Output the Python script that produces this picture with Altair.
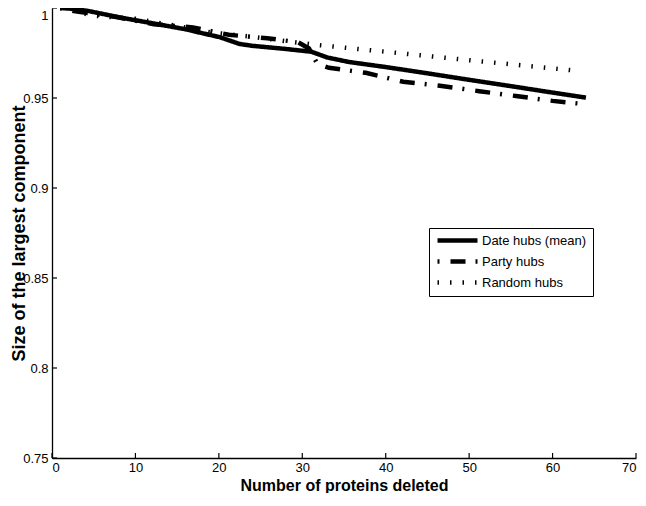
import altair as alt
import pandas as pd

# ---------------- data ----------------
series_names = ["Date hubs (mean)", "Party hubs", "Random hubs"]

date_x = [1, 2, 4.3, 8.3, 12.2, 16.1, 18.1, 20.1, 22.5, 24, 27.9, 31.1, 33, 35.6, 40, 45, 50, 55, 60, 64]
date_y = [1.0, 0.9997, 0.9984, 0.9946, 0.9914, 0.9881, 0.9859, 0.9838, 0.980, 0.979, 0.9773, 0.9757,
          0.9725, 0.970, 0.9672, 0.9637, 0.9601, 0.9566, 0.953, 0.9502]

party_x = [1, 3, 7.7, 12.2, 16.9, 21.2, 25.8, 29.5, 30.8, 31.8, 33.2, 37.6, 42.1, 46.5, 51.2, 55.6, 60, 63]
party_y = [1.0, 0.998, 0.995, 0.991, 0.9892, 0.9851, 0.9832, 0.981, 0.9775, 0.969, 0.9668, 0.964,
           0.959, 0.9568, 0.9538, 0.9511, 0.9484, 0.947]

random_x = [1, 5, 10, 14, 19, 23.4, 28, 31.7, 40, 50, 63]
random_y = [1.0, 0.9957, 0.994, 0.9908, 0.9865, 0.9843, 0.9816, 0.9795, 0.9757, 0.971, 0.9651]

x_ticks = [0, 10, 20, 30, 40, 50, 60, 70]
y_ticks = [0.75, 0.8, 0.85, 0.9, 0.95, 1.0]

# ---------------- build table ----------------
rows = []
for name, xs, ys in zip(series_names, [date_x, party_x, random_x], [date_y, party_y, random_y]):
    for i, (a, b) in enumerate(zip(xs, ys)):
        rows.append({"series": name, "n": a, "size": b, "order": i})
df = pd.DataFrame(rows)

W, H = 584, 450
FONT = "Liberation Sans"

xscale = alt.Scale(domain=[0, 70], nice=False, zero=False)
yscale = alt.Scale(domain=[0.75, 1.0], nice=False, zero=False)

x_axis = alt.Axis(values=x_ticks, title="Number of proteins deleted",
                  titleY=19, titleBaseline="top", labelPadding=3, labelFlush=True,
                  ticks=False, tickSize=0, grid=False,
                  domainColor="black", domainWidth=1.3,
                  labelFont=FONT, labelFontSize=13, labelColor="black",
                  titleFont=FONT, titleFontSize=16, titleFontWeight="bold", titleColor="black")
y_axis = alt.Axis(values=y_ticks, format="~g", title="Size of the largest component",
                  titleAngle=270, titleX=-42, titleY=H / 2, titleBaseline="top",
                  titleAlign="center", labelPadding=4, labelFlush=False,
                  labelOffset={"condition": {"test": "datum.value == 1", "value": 7}, "value": 0},
                  ticks=False, tickSize=0, grid=False,
                  domainColor="black", domainWidth=1.3,
                  labelFont=FONT, labelFontSize=13, labelColor="black",
                  titleFont=FONT, titleFontSize=18, titleFontWeight="bold", titleColor="black")

dash_patterns = [[1, 0], [2, 11, 15, 10], [1.5, 11]]

lines = alt.Chart(df).mark_line(color="black", strokeWidth=4.5).encode(
    x=alt.X("n:Q", scale=xscale, axis=x_axis),
    y=alt.Y("size:Q", scale=yscale, axis=y_axis),
    strokeDash=alt.StrokeDash("series:N",
                              scale=alt.Scale(domain=series_names, range=dash_patterns),
                              legend=alt.Legend(title=None, orient="none", legendX=377, legendY=220,
                                                strokeColor="black", fillColor="white", padding=6,
                                                labelFont=FONT, labelFontSize=13, labelColor="black",
                                                symbolType="stroke", symbolSize=1600,
                                                symbolStrokeWidth=4.5, symbolStrokeColor="black",
                                                clipHeight=13, rowPadding=7, labelOffset=2,
                                                symbolOffset=0)),
    order="order:Q",
)

xt = alt.Chart(pd.DataFrame({"n": x_ticks})).mark_rule(color="black", strokeWidth=1.2).encode(
    x=alt.X("n:Q", scale=xscale, axis=x_axis),
    y=alt.value(H), y2=alt.value(H - 5),
)
yt = alt.Chart(pd.DataFrame({"size": y_ticks})).mark_rule(color="black", strokeWidth=1.2).encode(
    y=alt.Y("size:Q", scale=yscale, axis=y_axis),
    x=alt.value(0), x2=alt.value(5),
)

chart = alt.layer(lines, xt, yt).properties(
    width=W, height=H,
    autosize=alt.AutoSizeParams(type="none"),
    padding={"left": 44, "top": 0, "right": 2, "bottom": 35},
    background="white",
).configure_view(stroke=None)

chart.save("out.html", embed_options={"renderer": "svg", "actions": False})
